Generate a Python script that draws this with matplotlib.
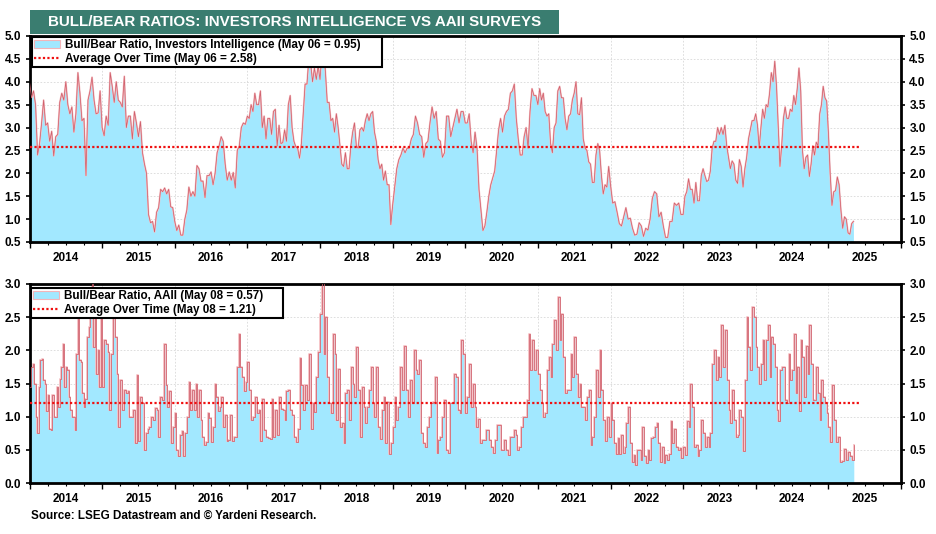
#!/usr/bin/env python3
"""Bull/Bear ratios: Investors Intelligence vs AAII surveys."""
import matplotlib
matplotlib.use('Agg')
import matplotlib.pyplot as plt
from matplotlib.lines import Line2D
from matplotlib.patches import Patch, Rectangle
import numpy as np

plt.rcParams['font.family'] = ['Liberation Sans', 'DejaVu Sans']
plt.rcParams['font.weight'] = 'bold'

YEARS = list(range(2014, 2026))

# Investors Intelligence
ii_by_year = [
    [4.0, 3.65, 3.8, 3.5, 2.4, 2.65, 3.1, 3.6, 3.05, 3.1, 2.7, 2.92, 2.38, 2.8, 2.85, 3.55, 3.75, 3.6,
     4.0, 3.5, 3.3, 3.45, 2.9, 3.3, 4.2, 3.75, 3.15, 3.2, 1.95, 3.6, 3.8, 4.1, 3.6, 3.3, 3.32, 3.8],
    [3.0, 2.82, 3.25, 3.05, 4.2, 3.9, 3.55, 4.0, 3.6, 3.55, 3.45, 4.12, 3.0, 3.25, 3.25, 2.75, 3.35, 3.1,
     2.8, 3.13, 2.45, 2.2, 2.0, 1.1, 0.92, 0.95, 0.72, 1.15, 1.25, 1.65, 1.6, 1.68, 1.55, 1.65, 1.27, 1.25],
    [0.95, 0.75, 0.87, 0.65, 0.65, 1.0, 1.2, 1.7, 1.5, 1.6, 1.5, 2.17, 2.1, 1.83, 1.83, 1.47, 1.95, 1.95,
     2.03, 1.75, 2.0, 2.45, 2.6, 2.8, 2.7, 2.2, 1.85, 2.03, 1.85, 2.02, 1.68, 2.5, 2.6, 3.0, 3.1, 3.07],
    [3.25, 3.2, 3.5, 3.35, 3.75, 3.5, 3.5, 3.8, 3.0, 3.25, 2.75, 3.2, 3.2, 2.85, 3.35, 3.4, 2.6, 3.05,
     2.65, 2.67, 2.95, 2.7, 3.5, 3.7, 3.0, 2.7, 2.58, 2.55, 2.33, 2.65, 3.3, 3.95, 3.95, 4.5, 4.4, 4.0,
     4.3, 4.05, 4.35],
    [4.05, 4.6, 4.8, 4.2, 3.55, 3.55, 3.15, 3.2, 2.9, 3.3, 3.0, 2.6, 2.2, 2.15, 2.45, 2.1, 2.1, 2.6, 2.9,
     3.1, 2.6, 2.55, 2.95, 3.0, 2.92, 3.15, 3.3, 3.15, 3.3, 3.35, 2.9, 2.7, 2.3, 2.1, 2.2, 1.85, 2.05,
     1.75, 1.75, 0.88],
    [1.3, 1.7, 2.1, 2.3, 2.4, 2.55, 2.45, 2.55, 2.55, 2.75, 2.85, 3.25, 3.1, 2.85, 2.8, 2.35, 2.65, 2.7,
     3.1, 3.45, 3.2, 3.35, 2.75, 2.7, 2.35, 2.45, 3.25, 3.25, 2.8, 3.0, 3.2, 3.4, 3.1, 3.35, 3.35],
    [3.1, 3.1, 3.3, 2.7, 2.45, 2.9, 2.55, 1.65, 1.2, 0.75, 0.85, 1.15, 1.5, 1.75, 1.9, 2.05, 2.5, 2.95,
     3.2, 2.9, 3.25, 3.35, 3.4, 3.75, 3.8, 3.95, 3.2, 2.75, 2.4, 2.4, 2.8, 3.0, 2.55, 3.35, 3.85, 3.7, 3.7],
    [3.5, 3.85, 3.6, 3.75, 3.35, 3.25, 3.3, 2.65, 2.45, 3.0, 3.1, 3.8, 3.9, 3.65, 3.65, 3.2, 2.95, 3.25,
     3.3, 3.6, 3.75, 4.0, 3.3, 3.28, 3.65, 2.75, 2.55, 2.5, 2.25, 2.2, 1.8, 1.8, 2.4, 2.65, 2.5, 1.95,
     1.55, 1.75, 1.7, 2.15],
    [1.75, 1.35, 1.38, 1.15, 0.9, 0.85, 1.05, 1.25, 1.0, 1.02, 0.8, 0.65, 0.67, 0.92, 0.85, 0.62, 0.8,
     0.76, 1.0, 1.45, 1.6, 1.55, 1.05, 1.15, 0.85, 0.6, 0.6, 0.95, 0.95, 1.35, 1.3, 1.35, 1.1],
    [1.1, 1.5, 1.6, 1.88, 1.65, 1.65, 1.35, 1.8, 1.4, 1.4, 1.95, 2.1, 1.95, 1.82, 1.85, 2.05, 2.55, 2.7,
     2.7, 3.0, 2.85, 3.0, 2.85, 3.05, 2.6, 2.35, 2.1, 2.27, 2.2, 1.85, 1.78, 2.3, 2.15, 1.7, 2.1, 2.35,
     2.75, 2.95, 3.15, 3.15],
    [3.3, 3.05, 2.55, 3.0, 3.4, 3.2, 3.5, 3.45, 3.75, 4.2, 4.0, 4.45, 3.9, 3.0, 2.15, 2.6, 3.2, 3.45, 3.2,
     3.2, 3.4, 3.35, 3.7, 3.5, 3.85, 4.3, 3.8, 2.5, 2.1, 2.35, 2.4, 1.93, 2.2, 2.6, 2.4, 2.68, 2.6, 3.3,
     3.5, 3.9, 3.65, 3.58],
    [2.9, 2.0, 1.3, 1.6, 1.62, 1.92, 1.75, 1.2, 0.8, 1.05, 1.0, 0.7, 0.67, 0.9, 0.95],
]
II_AVERAGE = 2.58
II_LAST = 2025.345

# AAII
aaii_by_year = [
    [1.45, 1.75, 1.8, 1.5, 1.0, 0.75, 1.45, 1.85, 1.87, 1.55, 1.5, 1.08, 1.32, 0.82, 0.8, 1.32, 1.0, 1.0,
     1.45, 1.15, 1.57, 1.75, 2.1, 1.45, 1.75, 1.7, 1.3, 1.1, 1.0, 1.0, 0.8, 1.95, 2.6, 1.85, 1.83, 1.35,
     1.15, 1.27, 2.2, 2.35, 2.9, 3.0, 2.05, 2.7, 1.65, 2.0, 1.45, 2.7],
    [1.45, 2.15, 2.1, 1.97, 1.1, 1.95, 2.7, 2.2, 1.65, 0.85, 1.55, 1.1, 1.4, 1.35, 1.38, 1.0, 1.0, 1.1, 0.6,
     1.63, 0.63, 1.3, 1.2, 0.5, 0.75, 0.82, 0.85, 1.0, 0.95, 1.13, 1.1, 0.7, 1.3, 1.25, 2.1, 1.47, 1.15,
     1.38, 0.6, 0.85],
    [1.05, 0.5, 0.4, 0.73, 0.78, 0.4, 0.75, 1.0, 1.53, 1.1, 1.4, 1.1, 1.5, 1.0, 1.4, 0.95, 0.7, 0.57, 0.62,
     1.05, 0.98, 0.62, 0.85, 1.5, 1.3, 1.08, 1.15, 1.3, 0.85, 1.03, 0.63, 0.65, 1.03, 0.63, 0.7, 0.7, 1.75,
     2.25, 1.75, 1.6, 1.38, 1.52],
    [1.82, 1.4, 0.95, 1.0, 1.3, 1.05, 1.1, 0.63, 1.27, 0.8, 0.7, 0.68, 0.67, 1.27, 0.7, 1.1, 0.72, 1.3, 1.12,
     1.1, 0.95, 1.38, 1.4, 1.1, 1.03, 0.7, 0.62, 0.82, 1.88, 1.47, 1.1, 1.47, 1.25, 1.95, 0.82, 1.2, 1.07,
     1.6, 1.97],
    [2.55, 3.2, 1.95, 2.5, 1.6, 1.2, 1.05, 2.25, 1.95, 0.95, 1.72, 0.85, 0.9, 0.6, 1.35, 1.4, 0.95, 1.75,
     1.5, 1.3, 2.05, 1.4, 0.7, 1.45, 1.15, 0.9, 1.15, 1.4, 1.75, 1.2, 1.0, 1.75, 0.85, 0.67, 1.1, 1.3, 0.6,
     1.22, 0.43, 0.6],
    [0.85, 1.3, 0.95, 1.15, 1.75, 1.4, 2.07, 1.4, 1.0, 1.55, 1.2, 2.0, 1.7, 1.65, 1.85, 0.75, 0.6, 0.55,
     0.85, 1.0, 1.2, 1.22, 1.6, 0.45, 0.65, 0.7, 1.0, 1.25, 0.5, 0.45, 1.2, 1.2, 1.65, 1.6, 1.1, 1.05, 2.15,
     1.95],
    [1.05, 1.3, 1.8, 1.15, 1.5, 1.15, 0.85, 0.97, 0.6, 0.65, 0.65, 0.8, 0.8, 0.65, 0.55, 0.45, 0.65, 0.87,
     0.88, 0.5, 0.5, 0.65, 0.5, 0.42, 0.7, 0.7, 0.8, 0.72, 0.5, 0.55, 0.85, 1.0, 1.0, 1.25, 2.25, 1.7, 2.15,
     1.7, 2.0],
    [1.65, 1.4, 1.2, 1.0, 1.05, 1.7, 1.9, 1.6, 2.1, 2.45, 2.0, 2.8, 2.15, 2.55, 1.9, 1.35, 1.4, 1.4, 1.95,
     1.6, 2.2, 1.65, 1.3, 1.5, 1.15, 1.15, 0.95, 1.3, 1.4, 0.57, 0.7, 1.0, 1.7, 1.3, 2.0, 1.4, 0.95, 0.63,
     1.0, 0.7],
    [1.2, 0.95, 0.6, 0.43, 0.68, 0.43, 0.72, 0.45, 0.55, 0.9, 1.15, 0.6, 0.32, 0.42, 0.27, 0.5, 0.5, 0.35,
     0.85, 0.4, 0.3, 0.5, 0.35, 0.68, 0.7, 0.85, 0.9, 0.6, 0.32, 0.55, 0.3, 0.42, 0.35, 0.43, 0.93, 0.6,
     0.82, 0.55, 0.5, 0.53, 0.37],
    [0.55, 0.42, 0.93, 0.85, 1.5, 1.15, 0.55, 0.58, 0.4, 0.5, 0.95, 0.75, 0.55, 0.7, 0.55, 0.75, 1.8, 2.0,
     1.55, 1.9, 1.6, 2.38, 1.75, 2.3, 1.55, 1.1, 0.9, 1.4, 0.95, 0.7, 0.72, 1.1, 1.0, 0.48, 1.55, 2.5,
     2.05, 1.7, 2.65, 2.5],
    [2.05, 1.75, 1.5, 1.8, 2.15, 1.55, 2.15, 2.38, 1.6, 2.2, 2.1, 1.75, 1.1, 0.93, 1.7, 1.75, 1.75, 1.25,
     1.2, 1.95, 1.55, 1.7, 2.25, 1.35, 1.75, 1.08, 2.15, 1.9, 1.3, 2.07, 1.65, 2.38, 1.8, 1.25, 1.25, 1.75,
     1.35, 0.95, 1.55, 1.3, 1.2, 1.05],
    [0.85, 0.62, 1.47, 0.95, 0.62, 0.7, 0.32, 0.33, 0.52, 0.35, 0.47, 0.4, 0.35, 0.57],
]
AAII_AVERAGE = 1.21
AAII_LAST = 2025.35

FILL_COLOR = '#A2E8FF'
TITLE_COLOR = '#3A7D70'
W, H = 936, 534


def year_axis(by_year, last):
    """Spread each year's readings evenly over that year."""
    xs, ys = [], []
    for year, vals in zip(YEARS, by_year):
        end = last if year == YEARS[-1] else year + 1
        xs.extend(np.linspace(year, end, len(vals), endpoint=year == YEARS[-1]))
        ys.extend(vals)
    return np.array(xs), np.array(ys)


def draw_panel(ax, by_year, last, average, ylim, yticks, labels, legend_box, stepped=False):
    x, y = year_axis(by_year, last)
    where = 'post' if stepped else None
    drawstyle = 'steps-post' if stepped else 'default'
    ax.fill_between(x, ylim[0], y, color=FILL_COLOR, lw=0, zorder=1, step=where)
    ax.plot(x, y, color='#F6C0C4', lw=1.3, zorder=2, drawstyle=drawstyle)
    ax.plot(x, y, color='#D0606C', lw=0.55, zorder=3, drawstyle=drawstyle)
    ax.plot([YEARS[0], 2025.42], [average, average], color='#F01010', lw=1.6, ls=(0, (1, 1)), zorder=4)

    ax.set_xlim(2014, 2026)
    ax.set_ylim(*ylim)
    ax.set_yticks(yticks)
    ax.set_yticklabels([f'{t:.1f}' for t in yticks])
    ax.tick_params(axis='y', which='major', left=True, right=True, labelleft=True, labelright=True,
                   length=3, width=1.2, labelsize=8.5, pad=3)

    ax.set_xticks(YEARS + [2026])
    ax.set_xticklabels([])
    quarters = [yr + q for yr in YEARS for q in (0.25, 0.5, 0.75)]
    names = [str(yr) if q == 0.5 else '' for yr in YEARS for q in (0.25, 0.5, 0.75)]
    ax.set_xticks(quarters, labels=names, minor=True)
    ax.tick_params(axis='x', which='major', length=4, width=1)
    ax.tick_params(axis='x', which='minor', length=2, width=0.8, labelsize=8.5, pad=5)

    # grid sits under the fill, so it only shows on the white part
    ax.grid(True, which='major', color='#C8C8C8', lw=0.6, ls=(0, (2, 2)), alpha=0.7)
    ax.set_axisbelow(True)
    for spine in ax.spines.values():
        spine.set_linewidth(2)

    handles = [Patch(facecolor=FILL_COLOR, edgecolor='#F3B4B8', lw=0.8),
               Line2D([], [], color='#F01010', lw=1.6, ls=(0, (1, 1)))]
    # legend box is wider than its text in the original, expand mode gives that
    x0, y0, x1 = legend_box
    anchor = (x0 / W, 1 - y0 / H - 0.1, (x1 - x0) / W, 0.1)
    leg = ax.legend(handles, labels, loc='upper left', bbox_to_anchor=anchor, bbox_transform=ax.figure.transFigure,
                    mode='expand', borderaxespad=0, fontsize=8.4, fancybox=False, framealpha=1, edgecolor='black',
                    borderpad=0.2, labelspacing=0.12, handlelength=2.2, handletextpad=0.45)
    leg.get_frame().set_linewidth(1.5)
    leg.set_zorder(10)


def main():
    fig = plt.figure(figsize=(W / 100, H / 100), dpi=100)

    fig.add_artist(Rectangle((30 / W, 1 - 34 / H), 529 / W, 24 / H, transform=fig.transFigure,
                             facecolor=TITLE_COLOR, edgecolor='none'))
    fig.text(294.5 / W, 1 - 22 / H, 'BULL/BEAR RATIOS: INVESTORS INTELLIGENCE VS AAII SURVEYS',
             color='white', fontsize=10.9, ha='center', va='center')

    ax1 = fig.add_axes([29.5 / W, 1 - 242 / H, 871.5 / W, 206 / H])
    draw_panel(ax1, ii_by_year, II_LAST, II_AVERAGE, (0.5, 5.0), list(np.arange(0.5, 5.1, 0.5)),
               ['Bull/Bear Ratio, Investors Intelligence (May 06 = 0.95)', 'Average Over Time (May 06 = 2.58)'],
               (32, 37, 382))

    ax2 = fig.add_axes([29.5 / W, 1 - 483 / H, 871.5 / W, 199 / H])
    draw_panel(ax2, aaii_by_year, AAII_LAST, AAII_AVERAGE, (0.0, 3.0), list(np.arange(0.0, 3.1, 0.5)),
               ['Bull/Bear Ratio, AAII (May 08 = 0.57)', 'Average Over Time (May 08 = 1.21)'],
               (31, 288, 283), stepped=True)

    fig.text(31 / W, 1 - 516 / H, 'Source: LSEG Datastream and © Yardeni Research.', fontsize=8.4, va='center')

    fig.savefig('out.png', dpi=100)
    plt.close(fig)


if __name__ == '__main__':
    main()
